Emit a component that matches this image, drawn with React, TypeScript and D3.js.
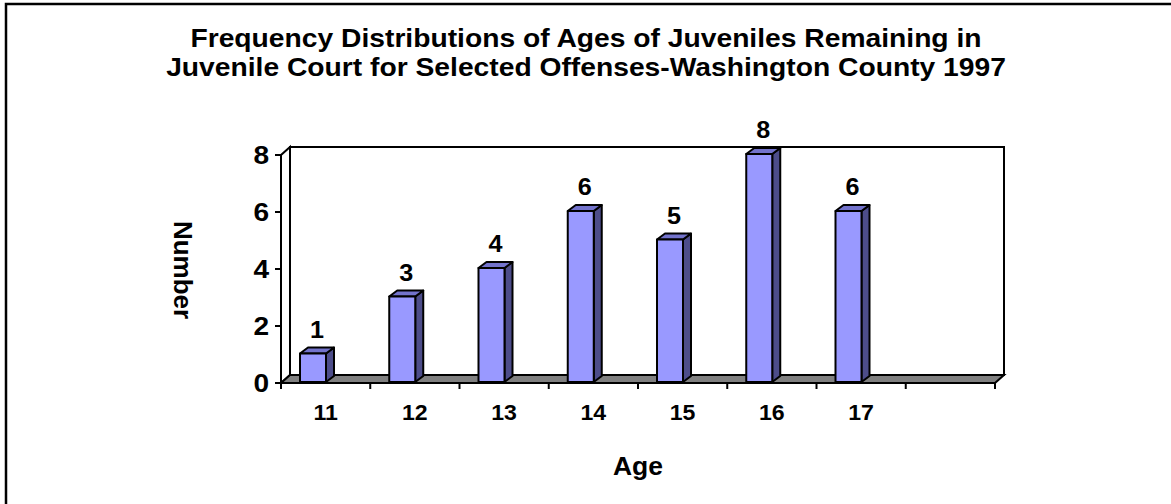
import React from "react";
import * as d3 from "d3";

const categories = ["11", "12", "13", "14", "15", "16", "17", ""];
const values: (number | null)[] = [1, 3, 4, 6, 5, 8, 6, null];
const yTicks = [0, 2, 4, 6, 8];
const titleLines = [
  "Frequency Distributions of Ages of Juveniles Remaining in",
  "Juvenile Court for Selected Offenses-Washington County 1997",
];
const xTitle = "Age";
const yTitle = "Number";

const W = 1171;
const H = 504;
const FONT = "Liberation Sans, Arial, Helvetica, sans-serif";

function SText(props: {
  x: number;
  y: number;
  sx?: number;
  size: number;
  anchor?: string;
  dy?: string;
  children: React.ReactNode;
}) {
  const { x, y, sx = 1, size, anchor = "middle", dy, children } = props;
  return (
    <text
      transform={`translate(${x},${y}) scale(${sx},1)`}
      textAnchor={anchor as any}
      fontWeight="bold"
      fontSize={size}
      dy={dy}
      fill="#000"
      stroke="none"
    >
      {children}
    </text>
  );
}

export default function App() {
  const x0 = 281;
  const x1 = 995;
  const yBase = 383;
  const yTop = 155;
  const dx = 9;
  const dy = -8;

  const keys = categories.map((c, i) => c + "_" + i);
  const x = d3.scaleBand<string>().domain(keys).range([x0, x1]).padding(0);
  const y = d3.scaleLinear().domain([0, 8]).range([yBase, yTop]);
  const bw = x.bandwidth();

  const barW = 26;
  const bdx = 8;
  const bdy = -6;
  const barOff = 19;

  const floor = [
    [x0, yBase],
    [x1, yBase],
    [x1 + dx, yBase + dy],
    [x0 + dx, yBase + dy],
  ];
  const leftWall = [
    [x0, yBase],
    [x0, yTop],
    [x0 + dx, yTop + dy],
    [x0 + dx, yBase + dy],
  ];
  const pts = (p: number[][]) => p.map((q) => q.join(",")).join(" ");

  return (
    <svg
      width={W}
      height={H}
      style={{ position: "absolute", left: 0, top: 0, background: "#fff" }}
      fontFamily={FONT}
    >
      <rect x={6} y={4} width={1300} height={700} fill="#fff" stroke="#000" strokeWidth={2.5} />
      {titleLines.map((t, i) => (
        <SText key={i} x={586} y={47 + i * 28.5} size={25} sx={1.13}>
          {t}
        </SText>
      ))}
      {/* back wall */}
      <rect
        x={x0 + dx}
        y={yTop + dy}
        width={x1 - x0}
        height={yBase - yTop}
        fill="#fff"
        stroke="#000"
        strokeWidth={2}
      />
      <polygon points={pts(leftWall)} fill="#fff" stroke="#000" strokeWidth={2} />
      <polygon points={pts(floor)} fill="#808080" stroke="#000" strokeWidth={2} />
      {/* y axis ticks */}
      {yTicks.map((t) => (
        <g key={t}>
          <line x1={x0 - 6} x2={x0} y1={y(t)} y2={y(t)} stroke="#000" strokeWidth={2} />
          <SText x={x0 - 12} y={y(t)} dy="0.36em" anchor="end" size={26} sx={1.08}>
            {t}
          </SText>
        </g>
      ))}
      <line x1={x0} x2={x0} y1={yTop} y2={yBase} stroke="#000" strokeWidth={2} />
      {/* x axis ticks */}
      {[...keys.map((k) => x(k) as number), x1].map((t, i) => (
        <line key={i} x1={t} x2={t} y1={yBase} y2={yBase + 6} stroke="#000" strokeWidth={2} />
      ))}
      <line x1={x0} x2={x1} y1={yBase} y2={yBase} stroke="#000" strokeWidth={2} />
      {categories.map((c, i) => (
        <SText key={i} x={(x(keys[i]) as number) + bw / 2} y={420} size={22} sx={1.05}>
          {c}
        </SText>
      ))}
      {/* bars */}
      {values.map((v, i) => {
        if (v == null) return null;
        const bx = (x(keys[i]) as number) + barOff;
        const top = y(v) - 1;
        const bot = yBase - 1;
        const front = [
          [bx, bot],
          [bx + barW, bot],
          [bx + barW, top],
          [bx, top],
        ];
        const side = [
          [bx + barW, bot],
          [bx + barW + bdx, bot + bdy],
          [bx + barW + bdx, top + bdy],
          [bx + barW, top],
        ];
        const topFace = [
          [bx, top],
          [bx + barW, top],
          [bx + barW + bdx, top + bdy],
          [bx + bdx, top + bdy],
        ];
        return (
          <g key={i} stroke="#000" strokeWidth={2} strokeLinejoin="round">
            <polygon points={pts(side)} fill="#4d4d8a" />
            <polygon points={pts(topFace)} fill="#7373cc" />
            <polygon points={pts(front)} fill="#9999ff" />
            <SText x={bx + (barW + bdx) / 2} y={top - 16} size={24} sx={1.05}>
              {v}
            </SText>
          </g>
        );
      })}
      <SText x={638} y={475} size={25} sx={1.06}>
        {xTitle}
      </SText>
      <text
        transform={`translate(174,270) rotate(90)`}
        textAnchor="middle"
        fontWeight="bold"
        fontSize={26}
      >
        {yTitle}
      </text>
    </svg>
  );
}
